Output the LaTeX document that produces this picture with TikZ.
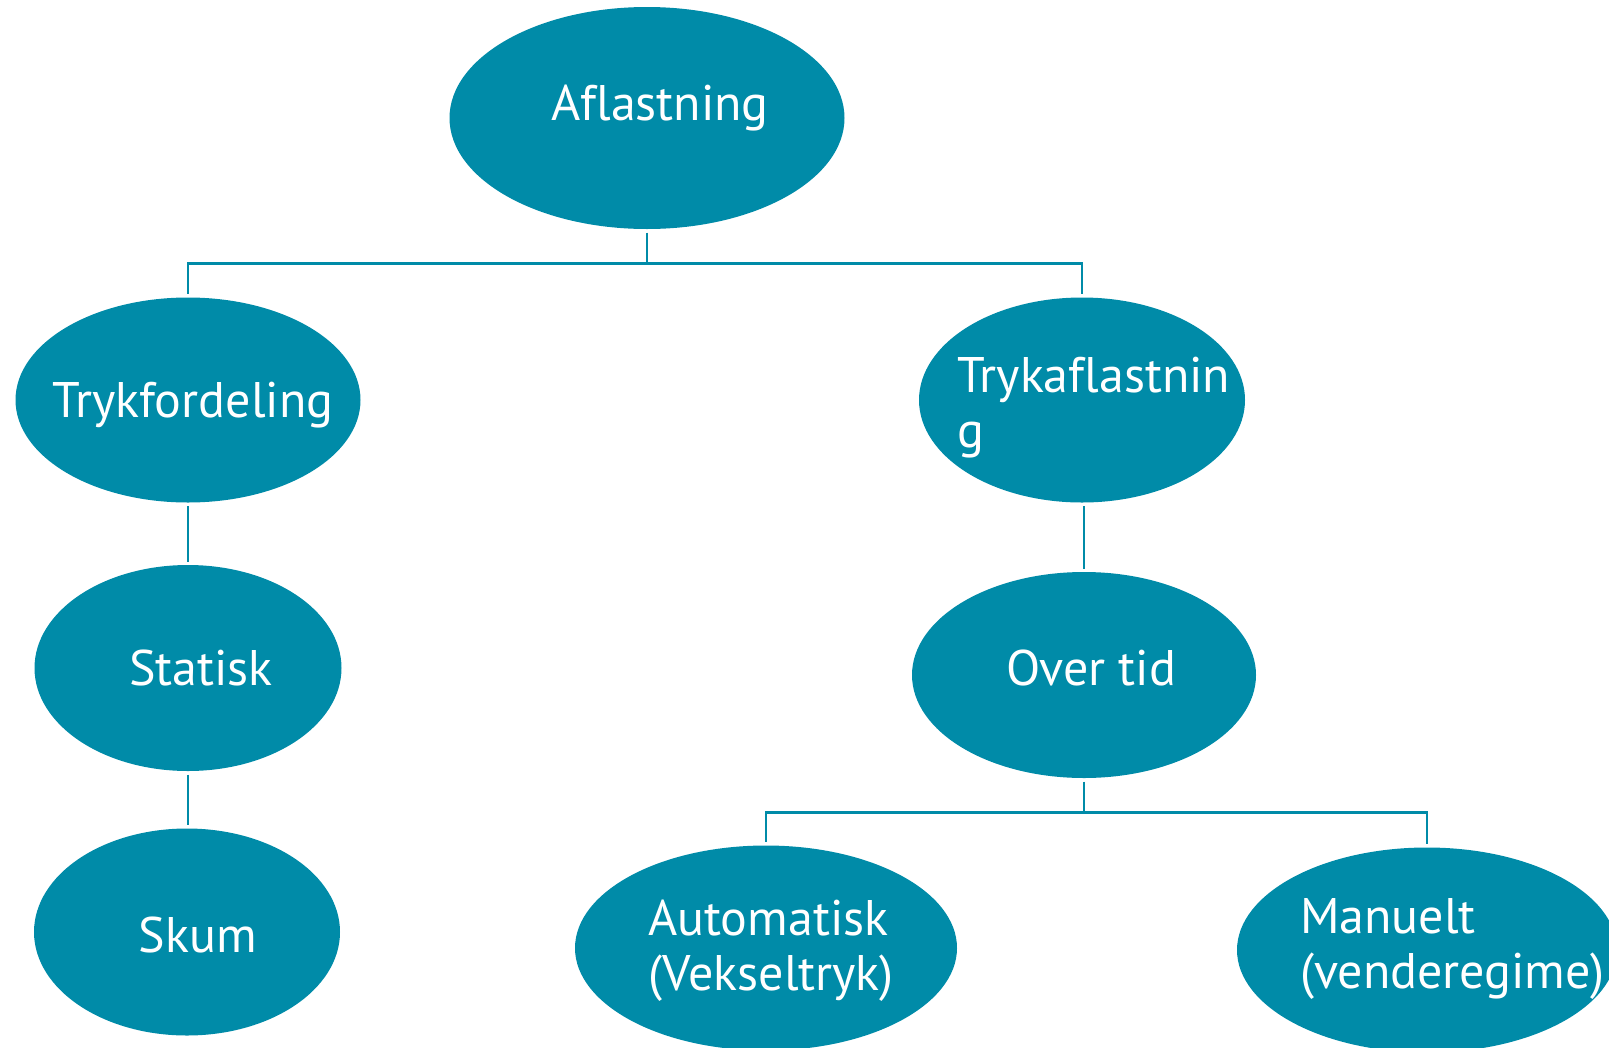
\documentclass[tikz,border=0pt]{standalone}
\usepackage{fontspec}
\setmainfont[Ligatures={NoCommon}]{PT Sans}
\usetikzlibrary{shapes.geometric}
\definecolor{aflblue}{RGB}{0,139,168}

\begin{document}
\begin{tikzpicture}[
    x=1pt, y=-1pt,
    % --- STILE ---
    blob/.style={
            ellipse,
            fill=aflblue,
            inner sep=0pt,
            outer sep=3.5pt
        },
    lbl/.style={
            text=white,
            inner sep=0pt,
            align=left,
            font=\fontsize{50}{55}\selectfont
        },
    fork/.style={
            draw=aflblue,
            line width=2.5pt
        },
    stem/.style={
            draw=aflblue,
            line width=1.4pt
        }
    ]
    \useasboundingbox (0,0) rectangle (1609,1047);

    % --- ELLIPSER ---
    \node[blob, minimum width=395pt, minimum height=222pt] (afl) at (647,118) {};
    \node[blob, minimum width=345pt, minimum height=205pt] (ford) at (188,400) {};
    \node[blob, minimum width=326pt, minimum height=205pt] (tryk) at (1082,400) {};
    \node[blob, minimum width=307pt, minimum height=206pt] (stat) at (188,668) {};
    \node[blob, minimum width=306pt, minimum height=207pt] (skum) at (187,932) {};
    \node[blob, minimum width=344pt, minimum height=206pt] (tid) at (1084,675) {};
    \node[blob, minimum width=382pt, minimum height=205pt] (auto) at (766,948) {};
    \node[blob, minimum width=380pt, minimum height=205pt] (man) at (1427,950) {};

    % --- TEKST ---
    % (base = grundlinjen af sidste linje)
    \node[lbl, anchor=base] (afl-txt) at (660,120) {Aflastning};
    \node[lbl, anchor=base] (ford-txt) at (193,417) {Trykfordeling};
    \node[lbl, anchor=base west] (tryk-txt) at (957,447) {Trykaflastnin\\g};
    \node[lbl, anchor=base] (stat-txt) at (201,685) {Statisk};
    \node[lbl, anchor=base] (skum-txt) at (198,952) {Skum};
    \node[lbl, anchor=base] (tid-txt) at (1091,685) {Over tid};
    \node[lbl, anchor=base west] (auto-txt) at (648,990) {Automatisk\\(Vekseltryk)};
    \node[lbl, anchor=base west] (man-txt) at (1300,988) {Manuelt\\(venderegime)};

    % --- FORBINDELSER ---
    % forgrening under Aflastning
    \draw[fork] (afl.south) -- ++(0,31) coordinate (afl-fork) -| (ford.north);
    \draw[fork] (afl-fork) -| (tryk.north);

    % enkle led
    \draw[stem] (ford.south) -- (ford.south |- stat.north);
    \draw[stem] (stat.south) -- (stat.south |- skum.north);
    \draw[stem] (tid.north |- tryk.south) -- (tid.north);

    % forgrening under Over tid
    \draw[fork] (tid.south) -- ++(0,31) coordinate (tid-fork) -| (auto.north);
    \draw[fork] (tid-fork) -| (man.north);

\end{tikzpicture}
\end{document}
